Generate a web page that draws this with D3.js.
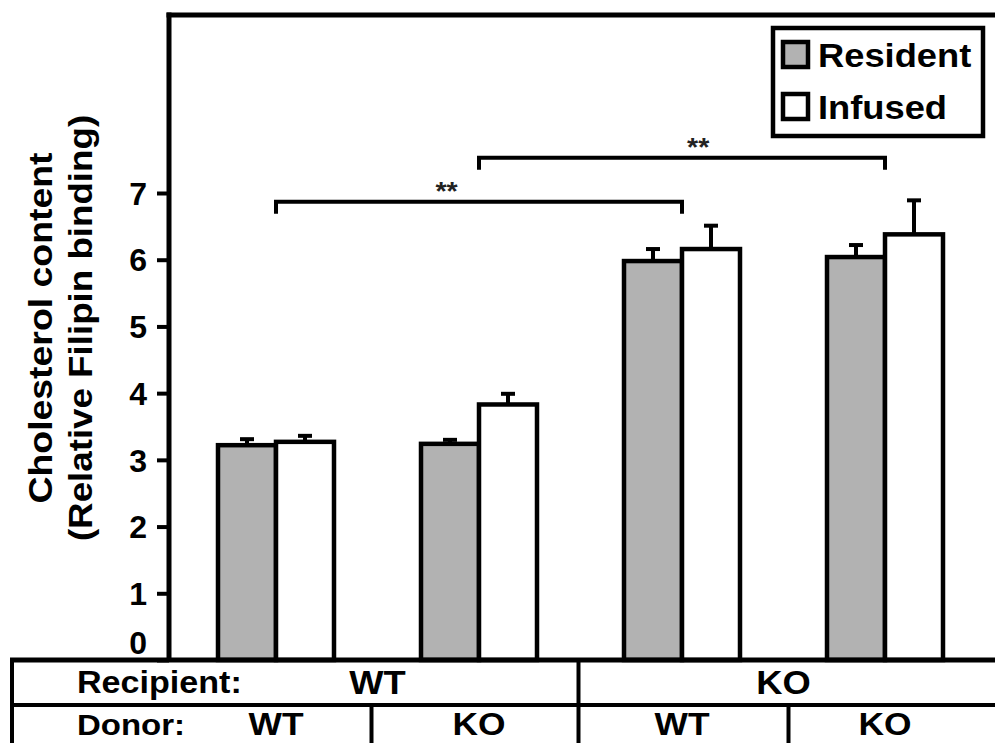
<!DOCTYPE html>
<html><head><meta charset="utf-8">
<script src="https://cdn.jsdelivr.net/npm/d3@7"></script>
<style>body{margin:0;background:#fff}svg{display:block}text{font-family:"Liberation Sans",Arial,sans-serif;font-weight:bold;fill:#000}</style>
</head><body><svg id="c" width="995" height="743"></svg>
<script>
const groups = ["WT/WT", "WT/KO", "KO/WT", "KO/KO"];
const recipients = ["WT", "WT", "KO", "KO"];
const donors = ["WT", "KO", "WT", "KO"];
const series = ["Resident", "Infused"];
const residentValues = [3.22, 3.24, 5.98, 6.04];
const residentErrors = [0.09, 0.06, 0.18, 0.18];
const infusedValues = [3.27, 3.83, 6.16, 6.38];
const infusedErrors = [0.09, 0.16, 0.35, 0.51];
const yTicks = [0, 1, 2, 3, 4, 5, 6, 7];
const brackets = [
  {from: 0, to: 2, level: 6.87, label: "**", pos: 0.42},
  {from: 1, to: 3, level: 7.53, label: "**", pos: 0.54}
];
const colors = {Resident: "#b2b2b2", Infused: "#ffffff"};

const svg = d3.select("#c");
const x = d3.scaleBand().domain(groups).range([174.5, 986.5]).paddingInner(0.4286).paddingOuter(0.2143);
const xs = d3.scaleBand().domain(series).range([0, x.bandwidth()]);
const y = d3.scaleLinear().domain([0, 7]).range([660, 193]);
const SX = 1.1;

const data = [];
groups.forEach((g, i) => {
  data.push({g, s: "Resident", v: residentValues[i], e: residentErrors[i]});
  data.push({g, s: "Infused", v: infusedValues[i], e: infusedErrors[i]});
});

// error bars (upward only)
const eb = svg.append("g").attr("stroke", "#000").attr("stroke-width", 4);
data.forEach(d => {
  const cx = x(d.g) + xs(d.s) + xs.bandwidth() / 2;
  eb.append("line").attr("x1", cx).attr("x2", cx).attr("y1", y(d.v)).attr("y2", y(d.v + d.e));
  eb.append("line").attr("x1", cx - 7).attr("x2", cx + 7).attr("y1", y(d.v + d.e)).attr("y2", y(d.v + d.e));
});

// bars
svg.append("g").selectAll("rect").data(data).join("rect")
  .attr("x", d => x(d.g) + xs(d.s))
  .attr("width", xs.bandwidth())
  .attr("y", d => y(d.v))
  .attr("height", d => y(0) - y(d.v))
  .attr("fill", d => colors[d.s])
  .attr("stroke", "#000").attr("stroke-width", 4.5);

// brackets
brackets.forEach(b => {
  const x1 = x(groups[b.from]) + x.bandwidth() / 2;
  const x2 = x(groups[b.to]) + x.bandwidth() / 2;
  const yy = y(b.level);
  svg.append("path").attr("d", `M${x1},${yy + 12}V${yy}H${x2}V${yy + 12}`)
    .attr("fill", "none").attr("stroke", "#000").attr("stroke-width", 4);
  svg.append("text").attr("transform", `translate(${x1 + (x2 - x1) * b.pos},${yy - 2}) scale(${SX},1)`)
    .attr("text-anchor", "middle").attr("font-size", 26).style("fill", "#222").text(b.label);
});

// y axis
const ax = svg.append("g").attr("transform", "translate(169,0)")
  .call(d3.axisLeft(y).tickValues(yTicks).tickSize(12).tickPadding(10).tickFormat(d3.format("d")));
ax.select(".domain").remove();
ax.selectAll(".tick line").attr("stroke", "#000").attr("stroke-width", 4);
ax.selectAll(".tick text").attr("font-size", 32).attr("font-family", null)
  .attr("dy", d => d === 0 ? "-0.2em" : "0.35em");
svg.append("line").attr("x1", 169).attr("x2", 169).attr("y1", 12.5).attr("y2", 662).attr("stroke", "#000").attr("stroke-width", 5);
svg.append("line").attr("x1", 166.5).attr("x2", 995).attr("y1", 15).attr("y2", 15).attr("stroke", "#000").attr("stroke-width", 5);

// axis title
const titleG = svg.append("g").attr("transform", "translate(0,328) rotate(-90)");
titleG.append("text").attr("transform", `translate(0,52) scale(${SX},1)`).attr("text-anchor", "middle").attr("font-size", 34).text("Cholesterol content");
titleG.append("text").attr("transform", `translate(0,92) scale(1.08,1)`).attr("text-anchor", "middle").attr("font-size", 34).text("(Relative Filipin binding)");

// legend
const lg = svg.append("g");
lg.append("rect").attr("x", 773).attr("y", 28).attr("width", 210).attr("height", 108).attr("fill", "#fff").attr("stroke", "#000").attr("stroke-width", 4.5);
series.forEach((s, i) => {
  lg.append("rect").attr("x", 783).attr("y", 42 + i * 52).attr("width", 25).attr("height", 25)
    .attr("fill", colors[s]).attr("stroke", "#000").attr("stroke-width", 4.5);
  lg.append("text").attr("transform", `translate(818,${67 + i * 52}) scale(${SX},1)`).attr("font-size", 33).text(s);
});

// table
const T = svg.append("g");
const mid = (a, b) => (x(groups[a]) + x(groups[b]) + x.bandwidth()) / 2;
const cen = i => x(groups[i]) + x.bandwidth() / 2;
T.append("line").attr("x1", 10).attr("x2", 995).attr("y1", 660).attr("y2", 660).attr("stroke", "#000").attr("stroke-width", 5);
T.append("line").attr("x1", 10).attr("x2", 995).attr("y1", 705).attr("y2", 705).attr("stroke", "#000").attr("stroke-width", 4);
T.append("line").attr("x1", 12).attr("x2", 12).attr("y1", 658).attr("y2", 743).attr("stroke", "#000").attr("stroke-width", 4);
T.append("line").attr("x1", mid(1, 2) - 2).attr("x2", mid(1, 2) - 2).attr("y1", 660).attr("y2", 743).attr("stroke", "#000").attr("stroke-width", 4);
[[0, 1, -6], [2, 3, 5]].forEach(p => T.append("line").attr("x1", mid(p[0], p[1]) + p[2]).attr("x2", mid(p[0], p[1]) + p[2]).attr("y1", 705).attr("y2", 743).attr("stroke", "#000").attr("stroke-width", 4));
T.append("text").attr("transform", `translate(77,693) scale(${SX},1)`).attr("font-size", 31).text("Recipient:");
T.append("text").attr("transform", `translate(77,735) scale(${SX},1)`).attr("font-size", 30).text("Donor:");
[[0, 1], [2, 3]].forEach(p => T.append("text").attr("transform", `translate(${mid(p[0], p[1])},694) scale(${SX},1)`)
  .attr("text-anchor", "middle").attr("font-size", 33).text(recipients[p[0]]));
donors.forEach((d, i) => T.append("text").attr("transform", `translate(${cen(i)},735) scale(1.14,1)`)
  .attr("text-anchor", "middle").attr("font-size", 31).text(d));
</script></body></html>
